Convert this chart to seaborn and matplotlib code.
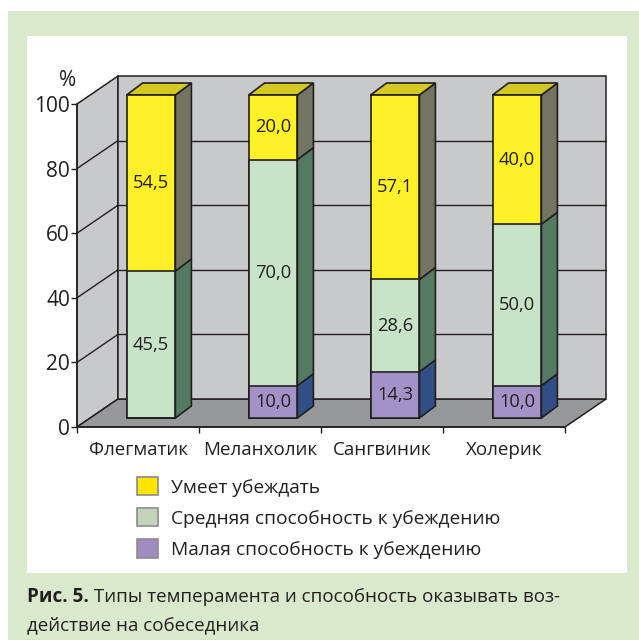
import matplotlib
matplotlib.use("Agg")
import matplotlib.pyplot as plt
import seaborn as sns
import pandas as pd
from matplotlib.patches import Polygon, Rectangle, Patch

categories = ["Флегматик", "Меланхолик", "Сангвиник", "Холерик"]
small = [0.0, 10.0, 14.3, 10.0]       # Малая способность к убеждению
medium = [45.5, 70.0, 28.6, 50.0]     # Средняя способность к убеждению
high = [54.5, 20.0, 57.1, 40.0]       # Умеет убеждать
series_names = ["Умеет убеждать",
                "Средняя способность к убеждению",
                "Малая способность к убеждению"]
y_ticks = [0, 20, 40, 60, 80, 100]
caption_bold = "Рис. 5."
caption_1 = " Типы темперамента и способность оказывать воз-"
caption_2 = "действие на собеседника"

# colours: front face, side face
yellow = ("#FFF028", "#737462")
green = ("#C8E4C8", "#527B62")
purple = ("#A292C8", "#324E86")
yellow_top = "#D4C823"
legend_colors = ["#FFE500", "#C2D4BA", "#A08CC0"]
ink = "#231F20"

sns.set_theme(style="white")
plt.rcParams["font.family"] = ["Open Sans", "DejaVu Sans"]

W, H = 639, 640
fig = plt.figure(figsize=(W / 100, H / 100), dpi=100)
fig.patch.set_facecolor("white")

# green frame and white panel behind everything
fig.patches.append(Rectangle((8 / W, 0), 1, 629 / H, transform=fig.transFigure,
                             facecolor="#D9E9CC", edgecolor="none", zorder=-10))
fig.patches.append(Rectangle((27 / W, 67 / H), 600 / W, 537 / H, transform=fig.transFigure,
                             facecolor="white", edgecolor="none", zorder=-9))

ax = fig.add_axes([77 / W, 213 / H, 488 / W, 323 / H])
ax.set_xlim(-0.5, 3.5)
ax.set_ylim(0, 100)
ax.patch.set_visible(False)

PX = 488 / 4      # pixels per category
PY = 323 / 100    # pixels per percent


def sh(x, y, d):
    return (x + d[0] / PX, y + d[1] / PY)


WALL = (41, 28)
BAR_OFF = (13, 9)
DEPTH = (16, 12)

# walls and floor
left_wall = [(-0.5, 0), (-0.5, 100), sh(-0.5, 100, WALL), sh(-0.5, 0, WALL)]
floor = [(-0.5, 0), (3.5, 0), sh(3.5, 0, WALL), sh(-0.5, 0, WALL)]
bx0, by0 = sh(-0.5, 0, WALL)
bx1, by1 = sh(3.5, 100, WALL)
for poly, fc in [(left_wall, "#C8C9CB"), (floor, "#97989A")]:
    ax.add_patch(Polygon(poly, closed=True, facecolor=fc, edgecolor=ink,
                         linewidth=1.1, clip_on=False, zorder=0.5))
ax.add_patch(Rectangle((bx0, by0), bx1 - bx0, by1 - by0, facecolor="#C8C9CB",
                       edgecolor=ink, linewidth=1.1, clip_on=False, zorder=0.5))
for t in y_ticks[1:-1]:
    a = sh(-0.5, t, WALL)
    b = sh(3.5, t, WALL)
    ax.plot([a[0], b[0]], [a[1], b[1]], color=ink, lw=1.0, clip_on=False, zorder=0.6)
    ax.plot([-0.5, a[0]], [t, a[1]], color=ink, lw=1.0, clip_on=False, zorder=0.6)

# front faces of stacked bars (drawn from the full stack downwards)
total = [s + m + h for s, m, h in zip(small, medium, high)]
mid_cum = [s + m for s, m in zip(small, medium)]
df = pd.DataFrame({"cat": categories, "total": total, "mid": mid_cum, "small": small})
for col, c in [("total", yellow[0]), ("mid", green[0]), ("small", purple[0])]:
    sns.barplot(data=df, x="cat", y=col, color=c, saturation=1, width=0.4,
                edgecolor=ink, linewidth=1.2, ax=ax, zorder=3)
for p in ax.patches:
    if isinstance(p, Rectangle) and p.get_zorder() == 3:
        p.set_x(p.get_x() + BAR_OFF[0] / PX)
        p.set_y(p.get_y() + BAR_OFF[1] / PY)
        p.set_clip_on(False)

# side and top faces
hw = 0.2
for i in range(len(categories)):
    segs = [(0, small[i], purple), (small[i], mid_cum[i], green), (mid_cum[i], total[i], yellow)]
    for b, t, col in segs:
        if t - b <= 0:
            continue
        r0 = sh(i + hw, b, BAR_OFF)
        r1 = sh(i + hw, t, BAR_OFF)
        side = [r0, r1, sh(*r1, DEPTH), sh(*r0, DEPTH)]
        ax.add_patch(Polygon(side, closed=True, facecolor=col[1], edgecolor=ink,
                             linewidth=1.2, clip_on=False, zorder=2.9))
        v = t - b
        cx, cy = sh(i, (b + t) / 2, BAR_OFF)
        ax.text(cx, cy, f"{v:.1f}".replace(".", ","), ha="center", va="center",
                fontsize=13.2, color=ink, zorder=4)
    l1 = sh(i - hw, total[i], BAR_OFF)
    r1 = sh(i + hw, total[i], BAR_OFF)
    top = [l1, r1, sh(*r1, DEPTH), sh(*l1, DEPTH)]
    ax.add_patch(Polygon(top, closed=True, facecolor=yellow_top, edgecolor=ink,
                         linewidth=1.2, clip_on=False, zorder=2.9))

# front axis
for s in ["top", "right"]:
    ax.spines[s].set_visible(False)
for s in ["left", "bottom"]:
    ax.spines[s].set_color(ink)
    ax.spines[s].set_linewidth(1.1)
ax.set_yticks(y_ticks)
ax.set_yticklabels([str(t) for t in y_ticks])
ax.set_xticks(range(len(categories)))
ax.set_xticklabels(categories)
ax.set_xticks([-0.5, 0.5, 1.5, 2.5, 3.5], minor=True)
ax.tick_params(axis="y", direction="out", length=4, width=1, color=ink, pad=1,
               labelsize=15, labelcolor=ink, left=True)
ax.tick_params(axis="x", which="major", length=0, pad=10, labelsize=13.5, labelcolor=ink)
ax.tick_params(axis="x", which="minor", direction="out", length=4, width=1,
               color=ink, bottom=True)
ax.set_xlabel("")
ax.set_ylabel("")
fig.text(68 / W, 1 - 80 / H, "%", ha="center", va="center", fontsize=15, color=ink)

# legend
handles = [Patch(facecolor=c, edgecolor="#8C8C8C", linewidth=1.2) for c in legend_colors]
fig.legend(handles, series_names, loc="upper left", bbox_to_anchor=(137 / W, 1 - 477 / H),
           frameon=False, fontsize=13.8, handlelength=1.09, handleheight=1.09,
           handletextpad=0.68, labelspacing=0.6, borderpad=0, borderaxespad=0,
           labelcolor=ink)

# caption
r = fig.canvas.get_renderer()
tb = fig.text(27 / W, 1 - 597 / H, caption_bold, fontsize=13.6, fontweight="bold",
              color=ink, va="center", ha="left")
ext = tb.get_window_extent(renderer=r)
fig.text(ext.x1 / W, 1 - 597 / H, caption_1, fontsize=13.5, color=ink, va="center", ha="left")
fig.text(27 / W, 1 - 625 / H, caption_2, fontsize=13.5, color=ink, va="center", ha="left")

fig.savefig("out.png", dpi=100)
